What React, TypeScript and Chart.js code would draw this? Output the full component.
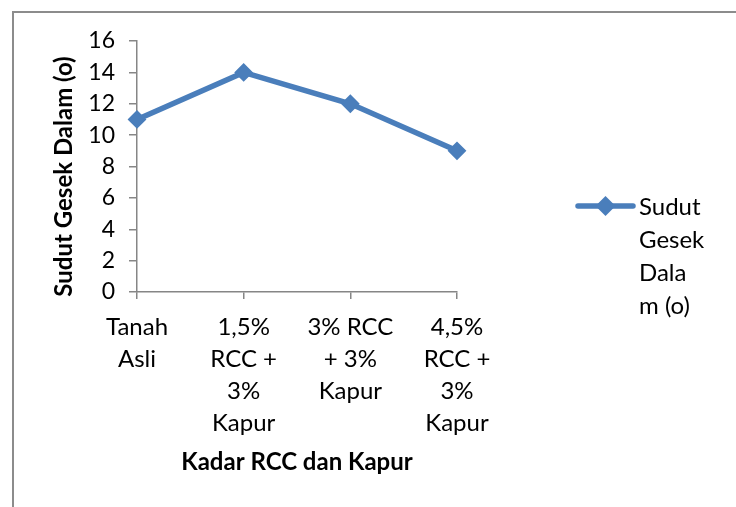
import React, { useEffect, useRef } from "react";
import { Chart, registerables } from "chart.js";

Chart.register(...registerables);

const categories: string[][] = [
  ["Tanah", "Asli"],
  ["1,5%", "RCC +", "3%", "Kapur"],
  ["3% RCC", "+ 3%", "Kapur"],
  ["4,5%", "RCC +", "3%", "Kapur"],
];
const sudutGesek: number[] = [11, 14, 12, 9];
const seriesName = "Sudut Gesek Dalam (o)";
const legendLines: string[] = ["Sudut", "Gesek", "Dala", "m (o)"];
const yTitle = "Sudut Gesek Dalam (o)";
const xTitle = "Kadar RCC dan Kapur";

const FONT = "Lato, 'Open Sans', sans-serif";
const BLUE = "#4a7ebb";
const AXIS = "#868686";

const framePlugin = {
  id: "frame",
  beforeDraw(chart: any) {
    const ctx = chart.ctx;
    ctx.save();
    ctx.strokeStyle = "#8c8c8c";
    ctx.lineWidth = 2;
    ctx.strokeRect(13, 12, 900, 700);
    ctx.restore();
  },
};

const extrasPlugin = {
  id: "extras",
  afterDraw(chart: any) {
    const ctx = chart.ctx;
    const area = chart.chartArea;
    ctx.save();
    // y axis title
    ctx.fillStyle = "#000";
    ctx.font = `bold 24px ${FONT}`;
    ctx.textAlign = "center";
    ctx.textBaseline = "middle";
    ctx.translate(64, (area.top + area.bottom) / 2 + 10);
    ctx.rotate(-Math.PI / 2);
    ctx.fillText(yTitle, 0, 0);
    ctx.restore();

    // legend
    const ds = chart.data.datasets[0];
    const lx0 = area.right + 121;
    const lx1 = lx0 + 55;
    const ly = 206;
    ctx.save();
    ctx.strokeStyle = ds.borderColor;
    ctx.lineWidth = 5.5;
    ctx.lineCap = "round";
    ctx.beginPath();
    ctx.moveTo(lx0, ly);
    ctx.lineTo(lx1, ly);
    ctx.stroke();
    const cx = (lx0 + lx1) / 2;
    const r = 10;
    ctx.fillStyle = ds.pointBackgroundColor;
    ctx.beginPath();
    ctx.moveTo(cx, ly - r);
    ctx.lineTo(cx + r, ly);
    ctx.lineTo(cx, ly + r);
    ctx.lineTo(cx - r, ly);
    ctx.closePath();
    ctx.fill();
    ctx.fillStyle = "#000";
    ctx.font = `24px ${FONT}`;
    ctx.textAlign = "left";
    ctx.textBaseline = "middle";
    legendLines.forEach((line, i) => {
      ctx.fillText(line, lx1 + 6, ly + 1 + i * 33);
    });
    ctx.restore();
  },
};

export default function App() {
  const ref = useRef<HTMLCanvasElement>(null);

  useEffect(() => {
    document.body.style.margin = "0";
    const canvas = ref.current!;
    const chart = new Chart(canvas, {
      type: "line",
      data: {
        labels: categories,
        datasets: [
          {
            label: seriesName,
            data: sudutGesek,
            borderColor: BLUE,
            backgroundColor: BLUE,
            pointBackgroundColor: BLUE,
            pointBorderColor: BLUE,
            borderWidth: 5.5,
            pointStyle: "rectRot",
            pointRadius: 8,
            pointBorderWidth: 2,
            tension: 0,
            fill: false,
          },
        ],
      },
      options: {
        responsive: false,
        animation: false,
        layout: { padding: { top: 41, right: 279, left: 0, bottom: 0 } },
        plugins: {
          legend: { display: false },
          tooltip: { enabled: false },
        },
        scales: {
          x: {
            type: "category",
            offset: false,
            grid: {
              display: true,
              drawOnChartArea: false,
              drawTicks: true,
              tickLength: 7,
              color: AXIS,
              lineWidth: 1.5,
            },
            border: { display: true, color: AXIS, width: 1.5 },
            ticks: {
              color: "#000",
              font: { family: FONT, size: 24, lineHeight: 32 / 24 },
              padding: 12,
              maxRotation: 0,
              minRotation: 0,
              autoSkip: false,
            },
            title: {
              display: true,
              text: xTitle,
              color: "#000",
              font: { family: FONT, size: 24, weight: "bold", lineHeight: 1.2 },
              padding: { top: 0, bottom: 30 },
            },
            afterFit(scale: any) {
              scale.height = 215;
            },
          },
          y: {
            min: 0,
            max: 16,
            ticks: {
              stepSize: 2,
              autoSkip: false,
              color: "#000",
              font: { family: FONT, size: 23, lineHeight: 1 },
              padding: 14,
            },
            grid: {
              display: true,
              drawOnChartArea: false,
              drawTicks: true,
              tickLength: 8,
              color: AXIS,
              lineWidth: 1.5,
            },
            border: { display: true, color: AXIS, width: 1.5 },
            afterFit(scale: any) {
              scale.width = 137;
            },
          },
        },
      },
      plugins: [framePlugin, extrasPlugin],
    });
    return () => chart.destroy();
  }, []);

  return (
    <div style={{ width: 736, height: 507, background: "#fff" }}>
      <canvas ref={ref} width={736} height={507} style={{ display: "block" }} />
    </div>
  );
}
